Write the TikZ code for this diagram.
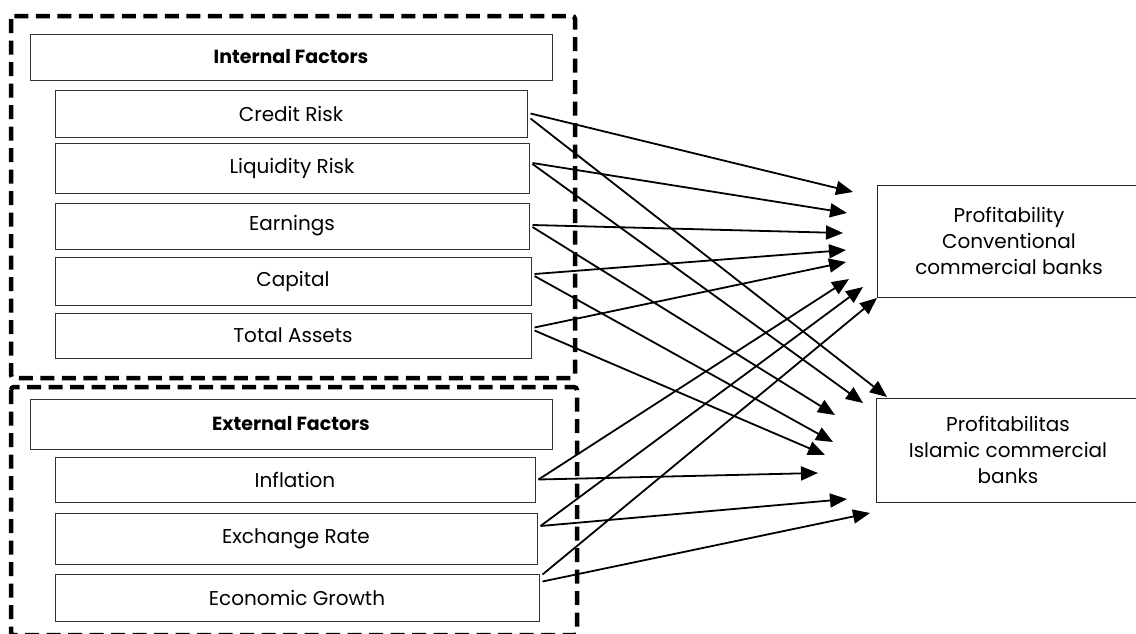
\documentclass[tikz,border=0pt]{standalone}
\usepackage{fontspec}
\setmainfont{Poppins}
\usetikzlibrary{arrows.meta}

\tikzset{
  factor/.style={draw=black!80, line width=1pt, inner sep=0pt, font=\fontsize{20}{24}\selectfont},
  head/.style={factor, font=\fontsize{19}{24}\selectfont\bfseries},
  result/.style={draw=black!85, line width=1pt, inner sep=0pt, align=center, font=\fontsize{20}{26}\selectfont},
  group/.style={line width=4.5pt, dash pattern=on 14pt off 7.5pt, rounded corners=3pt},
  arr/.style={line width=1.8pt, -{Triangle[length=17pt,width=14pt]}}
}

\begin{document}
\begin{tikzpicture}[x=1pt, y=-1pt]
    \useasboundingbox (0,0) rectangle (1136,633);
    % dashed groups
    \draw[group] (11,16) rectangle (575,378);
    \draw[group] (11,387) rectangle (577,635.2);

    \node[head, minimum width=522pt, minimum height=46pt] (intf) at (291,57) {Internal Factors};
    \node[factor, minimum width=472pt, minimum height=47pt] (credit) at (291,113.5) {Credit Risk};
    \node[factor, minimum width=474pt, minimum height=50pt] (liquidity) at (292,168) {Liquidity Risk};
    \node[factor, minimum width=474pt, minimum height=46pt] (earnings) at (292,226) {Earnings};
    \node[factor, minimum width=476pt, minimum height=48pt] (capital) at (293,281) {Capital};
    \node[factor, minimum width=476pt, minimum height=45pt] (assets) at (293,335.5) {Total Assets};

    \node[head, minimum width=522pt, minimum height=50pt] (extf) at (291,424) {External Factors};
    \node[factor, minimum width=480pt, minimum height=45pt] (inflation) at (295,479.5) {Inflation};
    \node[factor, minimum width=482pt, minimum height=51pt] (exchange) at (296,539) {Exchange Rate};
    \node[factor, minimum width=484pt, minimum height=47pt] (growth) at (297,597.5) {Economic Growth};

    \node[result, minimum width=264pt, minimum height=112pt] (conv) at (1009,241) {Profitability\\Conventional\\commercial banks};
    \node[result, minimum width=264pt, minimum height=104pt] (islamic) at (1008,450) {Profitabilitas\\Islamic commercial\\banks};

    % arrow tips
    \foreach \name/\a/\b in {credit/853/192, liquidity/847/213, earnings/843/233, capital/846/250,
        assets/846/262, inflation/849/279, exchange/863/287, growth/877/298}
      \coordinate (cv-\name) at (\a,\b);
    \foreach \name/\a/\b in {credit/887/397, liquidity/863/403, earnings/835/415, capital/833/442,
        assets/825/455, inflation/818/473, exchange/847/499, growth/870/513}
      \coordinate (is-\name) at (\a,\b);

    \foreach \src/\dy/\ey in {credit/0/-5, liquidity/5/4, earnings/1/-1, capital/7/5,
        assets/8/5, inflation/0/0, exchange/13/13, growth/23/16} {
      \draw[arr] ([xshift=3pt,yshift=\dy pt]\src.east) -- (cv-\src);
      \draw[arr] ([xshift=3pt,yshift=\ey pt]\src.east) -- (is-\src);
    }
\end{tikzpicture}
\end{document}
